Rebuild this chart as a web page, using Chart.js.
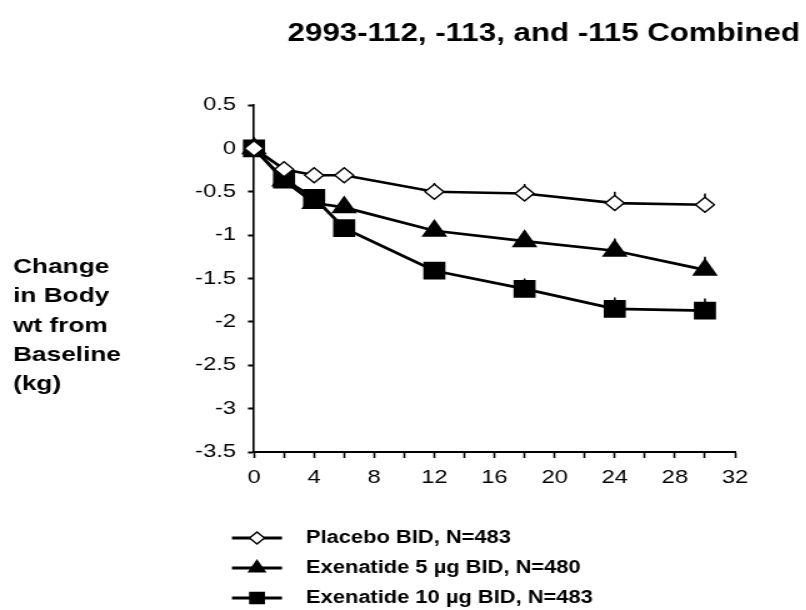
<!DOCTYPE html>
<html>
<head>
<meta charset="utf-8">
<script src="https://cdn.jsdelivr.net/npm/chart.js@4.4.1/dist/chart.umd.min.js"></script>
<style>
  html, body { margin: 0; padding: 0; background: #fff; }
  #wrap { width: 806px; height: 610px; overflow: hidden; position: relative; }
  #c { position: absolute; left: 0; top: 0; transform-origin: 0 0; transform: scaleX(1.25); }
</style>
</head>
<body>
<div id="wrap"><canvas id="c" width="645" height="610"></canvas></div>
<script>
// ---- data ----
const chartTitle = "2993-112, -113, and -115 Combined";
const yTitleLines = ["Change", "in Body", "wt from", "Baseline", "(kg)"];
const weeks = [0, 2, 4, 6, 12, 18, 24, 30];
const placebo = [0, -0.24, -0.31, -0.31, -0.50, -0.52, -0.63, -0.65];
const exen5   = [0, -0.37, -0.63, -0.68, -0.95, -1.07, -1.18, -1.40];
const exen10  = [0, -0.36, -0.57, -0.92, -1.41, -1.62, -1.85, -1.87];
const placeboSE = [0, 0.03, 0.04, 0.05, 0.10, 0.11, 0.13, 0.13];
const exen5SE   = [0, 0.04, 0.05, 0.06, 0.10, 0.12, 0.14, 0.15];
const exen10SE  = [0, 0.04, 0.05, 0.06, 0.10, 0.12, 0.13, 0.14];
const seriesLabels = ["Placebo BID, N=483", "Exenatide 5 \u00b5g BID, N=480", "Exenatide 10 \u00b5g BID, N=483"];
const xTickValues = [0, 2, 4, 6, 8, 10, 12, 14, 16, 18, 20, 22, 24, 26, 28, 30, 32];
const xTickLabels = ["0", "", "4", "", "8", "", "12", "", "16", "", "20", "", "24", "", "28", "", "32"];
const yTickValues = [0.5, 0, -0.5, -1, -1.5, -2, -2.5, -3, -3.5];
const yTickLabels = ["0.5", "0", "-0.5", "-1", "-1.5", "-2", "-2.5", "-3", "-3.5"];

const FONT = "Arial, 'Liberation Sans', Helvetica, sans-serif";
const SX = 1.25;                 // horizontal stretch of the whole picture (CSS)
const X = d => d / SX;           // page x -> canvas x

function pts(vals) { return weeks.map((w, i) => ({ x: w, y: vals[i] })); }

const seriesStyles = [
  { pointStyle: 'rectRot', radius: 7.5, bg: '#ffffff', legendRadius: 6, order: 1 },
  { pointStyle: 'triangle', radius: 10.5, bg: '#000000', legendRadius: 7.5, order: 3 },
  { pointStyle: 'rect', radius: 11.5, bg: '#000000', legendRadius: 8, order: 2 }
];
const seriesVals = [placebo, exen5, exen10];
const seriesSE = [placeboSE, exen5SE, exen10SE];

const datasets = seriesVals.map((vals, i) => ({
  label: seriesLabels[i],
  data: pts(vals),
  se: seriesSE[i],
  borderColor: '#000',
  borderWidth: 2.7,
  backgroundColor: seriesStyles[i].bg,
  pointStyle: seriesStyles[i].pointStyle,
  pointRadius: seriesStyles[i].radius,
  pointHoverRadius: seriesStyles[i].radius,
  pointBackgroundColor: seriesStyles[i].bg,
  pointBorderColor: '#000',
  pointBorderWidth: 1.4,
  order: seriesStyles[i].order,
  tension: 0,
  clip: false,
  fill: false
}));

const errorBars = {
  id: 'errorBars',
  beforeDatasetsDraw(chart) {
    const ctx = chart.ctx;
    const xs = chart.scales.x, ys = chart.scales.y;
    ctx.save();
    ctx.strokeStyle = '#000';
    ctx.lineWidth = 1.6;
    chart.data.datasets.forEach(ds => {
      ds.data.forEach((p, j) => {
        const px = xs.getPixelForValue(p.x);
        ctx.beginPath();
        ctx.moveTo(px, ys.getPixelForValue(p.y));
        ctx.lineTo(px, ys.getPixelForValue(p.y + ds.se[j]));
        ctx.stroke();
      });
    });
    ctx.restore();
  }
};

const texts = {
  id: 'texts',
  afterDraw(chart) {
    const ctx = chart.ctx;
    ctx.save();
    ctx.fillStyle = '#000';
    // title
    ctx.font = "bold 25px " + FONT;
    ctx.textAlign = 'right';
    ctx.textBaseline = 'alphabetic';
    ctx.fillText(chartTitle, X(800), 41);
    // y-axis title
    ctx.font = "bold 21px " + FONT;
    ctx.textAlign = 'left';
    yTitleLines.forEach((t, i) => ctx.fillText(t, X(13), 273 + i * 29.3));
    // legend
    const order = [0, 1, 2];
    order.forEach((di, r) => {
      const ds = chart.data.datasets[di];
      const st = seriesStyles[di];
      const yy = 538 + r * 30;
      ctx.strokeStyle = '#000';
      ctx.lineWidth = 3;
      ctx.beginPath();
      ctx.moveTo(X(232), yy);
      ctx.lineTo(X(282), yy);
      ctx.stroke();
      ctx.fillStyle = st.bg;
      ctx.strokeStyle = '#000';
      ctx.lineWidth = 1.4;
      Chart.helpers.drawPoint(ctx, { pointStyle: st.pointStyle, radius: st.legendRadius, rotation: 0, borderWidth: 1.4 }, X(257), yy);
      ctx.fillStyle = '#000';
      ctx.font = "bold 17.5px " + FONT;
      ctx.textBaseline = 'middle';
      ctx.textAlign = 'left';
      ctx.fillText(ds.label, X(306), yy);
    });
    ctx.restore();
  }
};

new Chart(document.getElementById('c'), {
  type: 'line',
  data: { datasets },
  options: {
    responsive: false,
    animation: false,
    devicePixelRatio: 1,
    layout: { padding: { top: 105, right: 645 - X(735), left: 0, bottom: 0 } },
    plugins: { legend: { display: false }, title: { display: false }, tooltip: { enabled: false } },
    scales: {
      x: {
        type: 'linear',
        min: 0, max: 32,
        afterFit(s) { s.height = 158; },
        afterBuildTicks(s) { s.ticks = xTickValues.map(v => ({ value: v })); },
        ticks: {
          autoSkip: false,
          maxRotation: 0,
          padding: 8,
          color: '#000',
          font: { family: FONT, size: 19 },
          callback(v) { const i = xTickValues.indexOf(v); return i >= 0 ? xTickLabels[i] : ''; }
        },
        grid: { drawOnChartArea: false, drawTicks: true, tickLength: 6, tickWidth: 1.6, color: '#000' },
        border: { display: true, color: '#000', width: 2 }
      },
      y: {
        type: 'linear',
        min: -3.5, max: 0.5,
        afterFit(s) { s.width = X(254); },
        afterBuildTicks(s) { s.ticks = yTickValues.map(v => ({ value: v })); },
        ticks: {
          autoSkip: false,
          padding: X(254) - X(6) - X(236),
          color: '#000',
          font: { family: FONT, size: 19 },
          callback(v) { const i = yTickValues.indexOf(v); return i >= 0 ? yTickLabels[i] : ''; }
        },
        grid: { drawOnChartArea: false, drawTicks: true, tickLength: X(6), tickWidth: 2, color: '#000' },
        border: { display: true, color: '#000', width: 1.6 }
      }
    }
  },
  plugins: [errorBars, texts]
});
</script>
</body>
</html>
